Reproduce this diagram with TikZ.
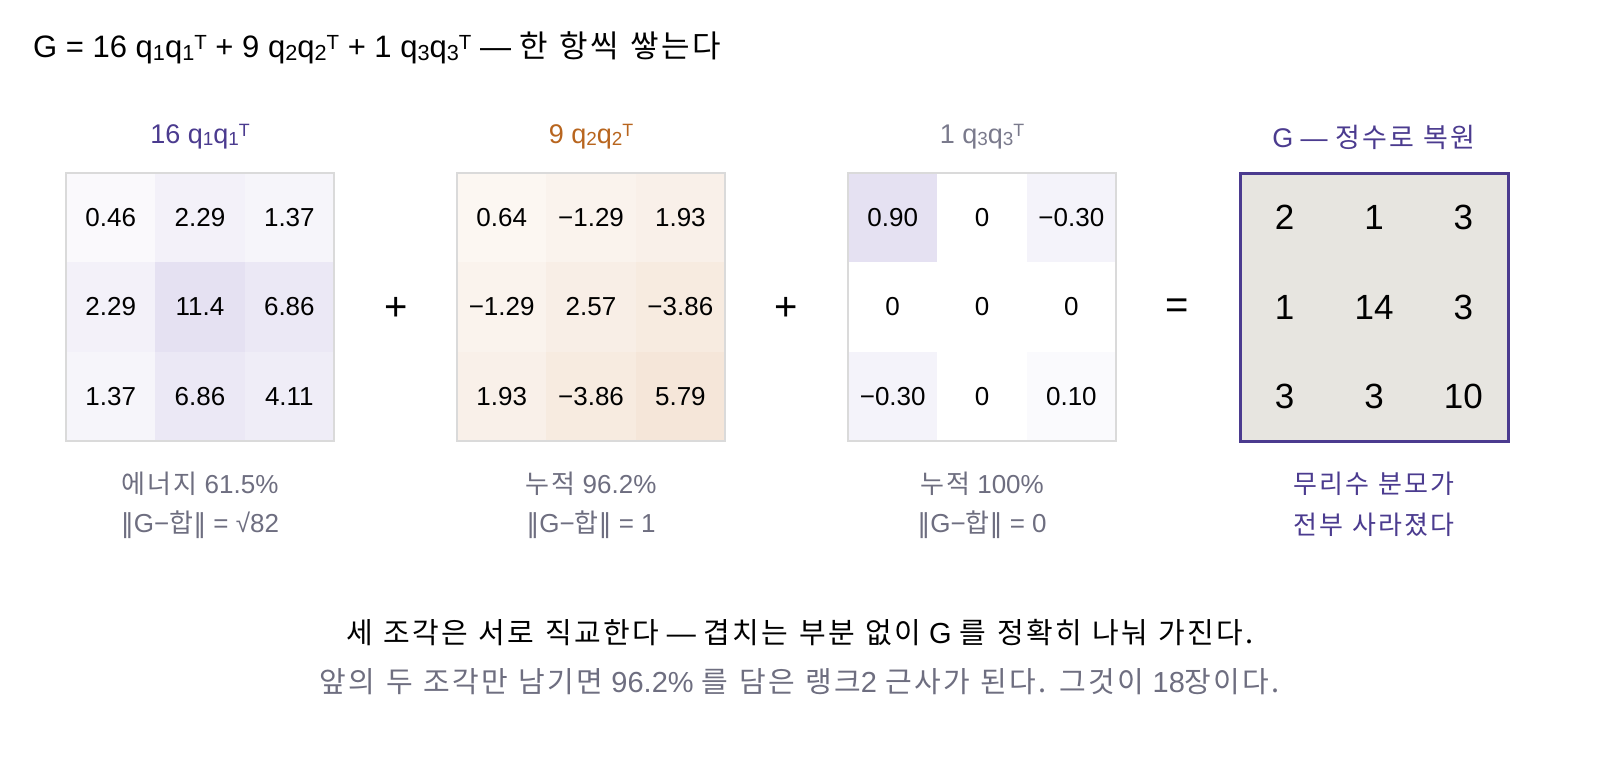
\documentclass[tikz,border=0pt]{standalone}
\usepackage{fontspec}
\usepackage{graphicx}
\setmainfont{Liberation Sans}
\newfontfamily\kofont[LetterSpace=8, WordSpace=1.2]{Noto Sans CJK KR}
\newfontfamily\symfont{DejaVu Sans}
\newcommand{\ko}[1]{{\kofont #1}}
\newcommand{\qsub}[1]{\raisebox{-0.08em}{\scalebox{0.7}{#1}}}
\newcommand{\qsup}{\raisebox{0.25em}{\scalebox{0.66}{T}}}
\newcommand{\qqt}[1]{q\qsub{#1}q\qsub{#1}\qsup}
\newcommand{\dbar}{{\symfont ‖}}
\usepackage{tikz}

\definecolor{gpurple}{HTML}{4B3B8F}
\definecolor{qorange}{HTML}{B8651E}
\definecolor{pcell}{HTML}{E5E1F2}
\definecolor{ocell}{HTML}{F5E6D9}
\definecolor{capgray}{HTML}{6E6E80}
\definecolor{titlegray}{HTML}{7A7A8C}
\definecolor{gfill}{HTML}{E7E5E0}
\definecolor{gridline}{HTML}{DADADA}

\tikzset{
	cell/.style={font=\fontsize{26}{30}\selectfont, inner sep=0pt},
	bigcell/.style={font=\fontsize{35}{40}\selectfont, inner sep=0pt},
	mtitle/.style={font=\fontsize{27}{32}\selectfont, inner sep=0pt},
	caption/.style={font=\fontsize{26}{30}\selectfont, text=capgray, inner sep=0pt},
	opsign/.style={font=\fontsize{40}{44}\selectfont, inner sep=0pt},
	note/.style={font=\fontsize{29}{34}\selectfont, inner sep=0pt},
	frame/.style={draw=gridline, line width=2pt, minimum size=268pt, inner sep=0pt},
}

\begin{document}
\begin{tikzpicture}[x=1pt, y=-1pt]
\useasboundingbox[fill=white] (0,0) rectangle (1600,756);

\node[anchor=west, font=\fontsize{31}{36}\selectfont, inner sep=0pt] (head) at (33,48)
	{G = 16 \qqt{1} + 9 \qqt{2} + 1 \qqt{3} — \ko{한 항씩 쌓는다}};

% 16 q1q1T
\foreach \t/\w [count=\k from 0] in {0.46/0.46, 2.29/2.29, 1.37/1.37, 2.29/2.29, 11.4/11.4, 6.86/6.86, 1.37/1.37, 6.86/6.86, 4.11/4.11} {
	\pgfmathtruncatemacro{\row}{div(\k,3)}
	\pgfmathtruncatemacro{\col}{mod(\k,3)}
	\pgfmathsetmacro{\p}{100*sqrt(\w/11.4)}
	\fill[pcell!\p!white] (66+89.33*\col, 173+89.33*\row) rectangle ++(89.33,89.33);
	\node[cell] (a-\row-\col) at (110.7+89.33*\col, 217.7+89.33*\row) {\t};
}

% 9 q2q2T
\foreach \t/\w [count=\k from 0] in {0.64/0.64, −1.29/1.29, 1.93/1.93, −1.29/1.29, 2.57/2.57, −3.86/3.86, 1.93/1.93, −3.86/3.86, 5.79/5.79} {
	\pgfmathtruncatemacro{\row}{div(\k,3)}
	\pgfmathtruncatemacro{\col}{mod(\k,3)}
	\pgfmathsetmacro{\p}{100*sqrt(\w/5.79)}
	\fill[ocell!\p!white] (457+89.33*\col, 173+89.33*\row) rectangle ++(89.33,89.33);
	\node[cell] (b-\row-\col) at (501.7+89.33*\col, 217.7+89.33*\row) {\t};
}

% 1 q3q3T
\foreach \t/\w [count=\k from 0] in {0.90/0.90, 0/0, −0.30/0.30, 0/0, 0/0, 0/0, −0.30/0.30, 0/0, 0.10/0.10} {
	\pgfmathtruncatemacro{\row}{div(\k,3)}
	\pgfmathtruncatemacro{\col}{mod(\k,3)}
	\pgfmathsetmacro{\p}{100*(\w/0.90)^0.8}
	\fill[pcell!\p!white] (848+89.33*\col, 173+89.33*\row) rectangle ++(89.33,89.33);
	\node[cell] (c-\row-\col) at (892.7+89.33*\col, 217.7+89.33*\row) {\t};
}

% G
\fill[gfill] (1240,173) rectangle ++(268,268);
\foreach \t [count=\k from 0] in {2, 1, 3, 1, 14, 3, 3, 3, 10} {
	\pgfmathtruncatemacro{\row}{div(\k,3)}
	\pgfmathtruncatemacro{\col}{mod(\k,3)}
	\node[bigcell] (g-\row-\col) at (1284.7+89.33*\col, 217.7+89.33*\row) {\t};
}

\node[frame] (m1) at (200,307) {};
\node[frame] (m2) at (591,307) {};
\node[frame] (m3) at (982,307) {};
\node[frame, draw=gpurple, line width=3pt] (m4) at (1374,307) {};

\node[mtitle, text=gpurple] (t1) at (200,137) {16 \qqt{1}};
\node[mtitle, text=qorange] (t2) at (591,137) {9 \qqt{2}};
\node[mtitle, text=titlegray] (t3) at (982,137) {1 \qqt{3}};
\node[mtitle, text=gpurple] (t4) at (1374,137) {G — \ko{정수로 복원}};

\node[opsign] (plus1) at (396,309) {+};
\node[opsign] (plus2) at (786,309) {+};
\node[opsign] (eq) at (1177,309) {=};

\node[caption] (c1a) at (200,484) {\ko{에너지} 61.5\%};
\node[caption] (c1b) at (200,525) {\dbar G−\ko{합}\dbar{} = √82};
\node[caption] (c2a) at (591,484) {\ko{누적} 96.2\%};
\node[caption] (c2b) at (591,525) {\dbar G−\ko{합}\dbar{} = 1};
\node[caption] (c3a) at (982,484) {\ko{누적} 100\%};
\node[caption] (c3b) at (982,525) {\dbar G−\ko{합}\dbar{} = 0};
\node[caption, text=gpurple] (c4a) at (1374,484) {\ko{무리수 분모가}};
\node[caption, text=gpurple] (c4b) at (1374,525) {\ko{전부 사라졌다}};

\node[note] (note1) at (800,633)
	{\ko{세 조각은 서로 직교한다} — \ko{겹치는 부분 없이} G \ko{를 정확히 나눠 가진다.}};
\node[note, text=capgray] (note2) at (800,682)
	{\ko{앞의 두 조각만 남기면} 96.2\% \ko{를 담은 랭크}2 \ko{근사가 된다. 그것이} 18\ko{장이다.}};
\end{tikzpicture}
\end{document}
